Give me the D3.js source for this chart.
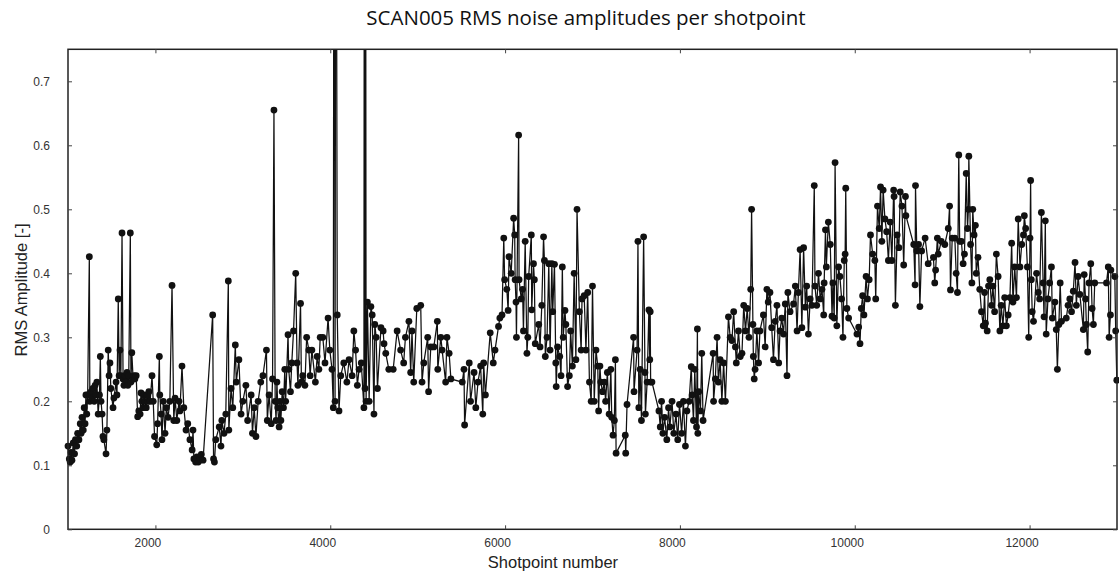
<!DOCTYPE html>
<html>
<head>
<meta charset="utf-8">
<script src="https://cdn.jsdelivr.net/npm/d3@7"></script>
<style>
  html, body { margin: 0; padding: 0; background: #fff; }
  svg { display: block; }
</style>
</head>
<body>
<svg id="chart" width="1119" height="575"></svg>
<script>
const chartTitle = "SCAN005 RMS noise amplitudes per shotpoint";
const xLabel = "Shotpoint number";
const yLabel = "RMS Amplitude [-]";
const xTicks = [2000, 4000, 6000, 8000, 10000, 12000];
const yTicks = [0, 0.1, 0.2, 0.3, 0.4, 0.5, 0.6, 0.7];
const xDomain = [1000, 13000];
const yDomain = [0, 0.75];

const shotpoints = [
1000,1015,1025,1035,1045,1060,1075,1085,1100,1110,1125,1140,1150,1160,1175,1185,1195,1205,1215,1225,
1244,1250,1265,1275,1285,1300,1310,1320,1330,1345,1360,1370,1378,1390,1400,1410,1435,1445,1460,1470,
1480,1490,1515,1525,1550,1560,1575,1585,1595,1605,1618,1630,1640,1650,1660,1675,1685,1695,1713,1720,
1730,1745,1755,1765,1780,1797,1810,1825,1835,1845,1860,1870,1880,1895,1905,1915,1925,1940,1961,1975,
1990,2015,2025,2045,2050,2065,2075,2090,2110,2125,2145,2165,2190,2210,2225,2245,2270,2280,2304,2325,
2350,2370,2395,2420,2430,2440,2460,2475,2490,2510,2525,2545,2655,2665,2675,2690,2730,2750,2760,2785,
2805,2834,2840,2865,2885,2914,2925,2955,2980,3000,3035,3055,3095,3110,3130,3150,3175,3205,3230,3270,
3280,3300,3325,3340,3356,3370,3380,3390,3400,3415,3425,3435,3450,3465,3480,3490,3517,3525,3545,3560,
3580,3605,3620,3630,3660,3670,3685,3710,3730,3755,3770,3790,3830,3850,3870,3885,3915,3940,3975,3995,
4020,4035,4045,4055,4065,4080,4100,4120,4155,4190,4215,4250,4270,4290,4310,4330,4355,4385,4393,4398,
4402,4410,4425,4445,4465,4480,4500,4510,4525,4540,4580,4605,4615,4635,4670,4720,4765,4805,4840,4860,
4900,4920,4935,4955,4990,5035,5050,5070,5115,5125,5150,5185,5225,5230,5265,5280,5320,5335,5360,5380,
5510,5530,5537,5590,5605,5645,5665,5690,5720,5745,5755,5775,5830,5865,5885,5925,5940,5965,5985,5995,
6020,6035,6045,6070,6098,6110,6115,6125,6130,6155,6160,6185,6200,6210,6230,6250,6260,6270,6300,6305,
6325,6335,6345,6385,6400,6420,6440,6450,6460,6480,6500,6515,6535,6545,6565,6580,6585,6600,6625,6640,
6655,6665,6685,6695,6715,6735,6750,6770,6790,6810,6823,6850,6870,6880,6905,6925,6945,6965,6985,7000,
7020,7040,7060,7070,7085,7095,7115,7135,7150,7170,7190,7210,7220,7235,7250,7262,7270,7375,7380,7395,
7470,7475,7510,7520,7530,7545,7560,7585,7600,7605,7625,7645,7655,7660,7665,7680,7760,7775,7790,7805,
7825,7850,7870,7885,7910,7930,7955,7975,7995,8020,8040,8063,8080,8105,8130,8140,8155,8170,8190,8200,
8205,8215,8235,8250,8265,8380,8385,8405,8425,8440,8460,8480,8500,8520,8555,8575,8595,8615,8635,8645,
8670,8690,8710,8730,8750,8770,8790,8810,8820,8835,8840,8850,8860,8880,8900,8915,8955,8975,8995,9010,
9030,9050,9070,9090,9110,9130,9145,9165,9185,9205,9225,9235,9260,9300,9320,9340,9355,9375,9395,9415,
9435,9450,9470,9490,9510,9537,9545,9565,9585,9605,9625,9645,9650,9665,9675,9698,9720,9740,9750,9765,
9775,9795,9815,9830,9850,9865,9880,9890,9897,9910,9930,10025,10045,10060,10075,10090,10105,10130,10145,10165,
10180,10205,10230,10240,10260,10280,10295,10310,10325,10345,10365,10385,10405,10425,10445,10450,10465,10485,10505,10520,
10540,10560,10580,10585,10675,10690,10695,10710,10730,10745,10765,10805,10840,10900,10915,10925,10945,10955,10990,11030,
11070,11085,11095,11115,11145,11160,11175,11190,11200,11220,11240,11255,11275,11290,11300,11305,11325,11340,11350,11365,
11380,11390,11410,11430,11450,11470,11485,11495,11515,11530,11545,11565,11580,11600,11620,11640,11660,11675,11695,11715,
11735,11755,11775,11795,11810,11830,11850,11870,11890,11910,11930,11940,11955,11975,11990,12005,12012,12020,12030,12045,
12080,12100,12115,12135,12155,12165,12180,12190,12210,12230,12250,12260,12290,12305,12318,12335,12350,12365,12420,12440,
12460,12480,12500,12520,12535,12555,12575,12615,12625,12640,12650,12665,12680,12700,12715,12730,12745,12880,12900,12910,
12925,12930,12975,12985,12998
];

const rmsAmplitude = [
.13,.11,.105,.12,.108,.135,.118,.14,.13,.15,.14,.165,.15,.175,.155,.19,.165,.21,.18,.21,
.426,.2,.215,.205,.22,.2,.225,.21,.23,.18,.21,.27,.2,.18,.145,.14,.118,.155,.28,.24,
.26,.22,.19,.205,.23,.21,.36,.24,.28,.24,.463,.235,.225,.24,.23,.245,.225,.24,.463,.23,
.276,.235,.24,.235,.24,.176,.185,.18,.213,.2,.19,.21,.2,.19,.21,.2,.215,.2,.24,.2,
.145,.132,.165,.27,.21,.18,.14,.2,.15,.19,.175,.2,.381,.17,.205,.17,.2,.185,.255,.19,
.155,.165,.14,.124,.155,.11,.105,.113,.105,.11,.117,.108,.335,.11,.105,.14,.16,.13,.17,.15,
.18,.388,.155,.22,.19,.288,.23,.265,.18,.2,.225,.17,.21,.15,.19,.145,.2,.23,.24,.28,
.17,.21,.165,.235,.655,.2,.17,.23,.19,.16,.2,.17,.215,.19,.25,.2,.304,.25,.215,.26,
.31,.4,.26,.225,.353,.23,.24,.225,.3,.28,.24,.28,.23,.27,.25,.3,.3,.26,.33,.28,
.25,.19,1.6,.2,1.4,.335,.185,.24,.26,.23,.265,.24,.31,.28,.225,.25,.26,.19,1.8,.22,
1.6,.2,.355,.2,.348,.335,.18,.32,.3,.22,.315,.31,.29,.275,.25,.25,.31,.28,.26,.3,
.325,.245,.31,.23,.345,.35,.23,.26,.3,.215,.285,.285,.325,.25,.3,.28,.23,.3,.275,.235,
.23,.25,.163,.26,.2,.245,.19,.23,.255,.18,.26,.21,.307,.26,.28,.317,.33,.335,.455,.39,
.375,.342,.426,.4,.486,.46,.39,.355,.3,.616,.39,.36,.375,.31,.45,.275,.3,.395,.46,.343,
.415,.39,.29,.32,.285,.35,.457,.42,.27,.3,.415,.28,.415,.34,.414,.26,.223,.285,.27,.24,
.41,.3,.342,.32,.223,.24,.31,.255,.4,.265,.5,.34,.28,.36,.365,.28,.37,.23,.2,.38,
.2,.28,.255,.185,.255,.23,.215,.23,.2,.245,.18,.25,.175,.147,.17,.265,.119,.147,.119,.195,
.3,.215,.28,.45,.19,.25,.17,.457,.245,.18,.23,.343,.265,.34,.23,.23,.185,.16,.2,.15,
.175,.14,.19,.16,.2,.15,.18,.14,.195,.15,.2,.13,.185,.2,.254,.21,.17,.25,.16,.313,
.15,.215,.185,.275,.17,.275,.2,.235,.3,.23,.265,.2,.26,.2,.332,.3,.295,.34,.285,.26,
.31,.27,.275,.35,.31,.345,.3,.375,.5,.32,.27,.235,.25,.31,.26,.31,.335,.285,.375,.355,
.37,.315,.265,.325,.35,.26,.31,.33,.305,.352,.24,.37,.34,.352,.38,.31,.37,.437,.315,.44,
.347,.38,.305,.36,.35,.537,.38,.35,.4,.36,.375,.335,.385,.468,.41,.48,.445,.333,.385,.33,
.573,.318,.41,.395,.36,.3,.42,.43,.533,.345,.33,.305,.316,.29,.345,.365,.335,.395,.36,.39,
.46,.43,.42,.36,.505,.47,.535,.45,.53,.485,.465,.42,.48,.42,.53,.52,.35,.46,.44,.527,
.505,.413,.52,.49,.445,.382,.537,.435,.445,.348,.435,.455,.415,.425,.385,.405,.455,.43,.45,.445,
.47,.505,.374,.455,.455,.4,.37,.585,.45,.45,.415,.43,.556,.47,.5,.583,.445,.385,.5,.46,
.475,.4,.425,.375,.34,.318,.37,.322,.31,.38,.39,.35,.38,.34,.43,.395,.31,.35,.318,.362,
.318,.335,.362,.447,.355,.41,.362,.485,.41,.445,.46,.49,.47,.41,.3,.455,.545,.39,.34,.325,
.4,.37,.36,.495,.385,.332,.482,.305,.36,.385,.41,.33,.355,.312,.25,.32,.385,.325,.33,.35,
.36,.34,.372,.417,.35,.395,.367,.312,.398,.36,.32,.277,.385,.415,.345,.32,.385,.385,.41,.3,
.335,.405,.395,.31,.233
];

const W = 1119, H = 575;
const margin = { left: 68, right: 2, top: 49.3, bottom: 45.7 };
const svg = d3.select("#chart");

const x = d3.scaleLinear().domain(xDomain).range([margin.left, W - margin.right]);
const y = d3.scaleLinear().domain(yDomain).range([H - margin.bottom, margin.top]);

const data = shotpoints.map((s, i) => ({ s, v: rmsAmplitude[i] }));

svg.append("defs").append("clipPath").attr("id", "plotclip")
  .append("rect")
  .attr("x", margin.left - 6).attr("y", margin.top)
  .attr("width", W - margin.left - margin.right + 12)
  .attr("height", (H - margin.bottom) - margin.top);

const plot = svg.append("g").attr("clip-path", "url(#plotclip)");

plot.append("path")
  .datum(data)
  .attr("fill", "none")
  .attr("stroke", "#111")
  .attr("stroke-width", 1.25)
  .attr("d", d3.line().x(d => x(d.s)).y(d => y(d.v)));

plot.selectAll("circle.pt")
  .data(data)
  .join("circle")
  .attr("class", "pt")
  .attr("cx", d => x(d.s))
  .attr("cy", d => y(d.v))
  .attr("r", 3.4)
  .attr("fill", "#111");

svg.append("rect")
  .attr("x", margin.left).attr("y", margin.top)
  .attr("width", W - margin.left - margin.right)
  .attr("height", (H - margin.bottom) - margin.top)
  .attr("fill", "none")
  .attr("stroke", "#222")
  .attr("stroke-width", 1.5);

const tickFont = "Liberation Sans, Arial, sans-serif";

const xAxis = d3.axisBottom(x).tickValues(xTicks).tickSizeInner(-4).tickSizeOuter(0).tickPadding(9).tickFormat(d3.format("d"));
const gx = svg.append("g").attr("transform", `translate(0,${H - margin.bottom})`).call(xAxis);
gx.select(".domain").remove();
gx.selectAll("text").attr("font-size", 12).attr("font-family", tickFont).attr("fill", "#333").attr("dx", -8);
gx.selectAll("line").attr("stroke", "#444");

const gxt = svg.append("g").attr("transform", `translate(0,${margin.top})`)
  .call(d3.axisTop(x).tickValues(xTicks).tickSizeInner(-4).tickSizeOuter(0).tickFormat(""));
gxt.select(".domain").remove();
gxt.selectAll("line").attr("stroke", "#444");

const yAxis = d3.axisLeft(y).tickValues(yTicks).tickSizeInner(-4).tickSizeOuter(0).tickPadding(18).tickFormat(d => d === 0 ? "0" : d3.format(".1f")(d));
const gy = svg.append("g").attr("transform", `translate(${margin.left},0)`).call(yAxis);
gy.select(".domain").remove();
gy.selectAll("text").attr("font-size", 12).attr("font-family", tickFont).attr("fill", "#333");
gy.selectAll("line").attr("stroke", "#444");

const gyr = svg.append("g").attr("transform", `translate(${W - margin.right},0)`)
  .call(d3.axisRight(y).tickValues(yTicks).tickSizeInner(-4).tickSizeOuter(0).tickFormat(""));
gyr.select(".domain").remove();
gyr.selectAll("line").attr("stroke", "#444");

svg.append("text")
  .attr("x", 586).attr("y", 25)
  .attr("text-anchor", "middle")
  .attr("font-family", "Open Sans, Noto Sans, sans-serif")
  .attr("font-size", 20.5)
  .attr("fill", "#111")
  .text(chartTitle);

svg.append("text")
  .attr("x", 553).attr("y", 568)
  .attr("text-anchor", "middle")
  .attr("font-family", tickFont)
  .attr("font-size", 16.5)
  .attr("fill", "#222")
  .text(xLabel);

svg.append("text")
  .attr("transform", "translate(27,290) rotate(-90)")
  .attr("text-anchor", "middle")
  .attr("font-family", tickFont)
  .attr("font-size", 16.5)
  .attr("fill", "#222")
  .text(yLabel);
</script>
</body>
</html>
